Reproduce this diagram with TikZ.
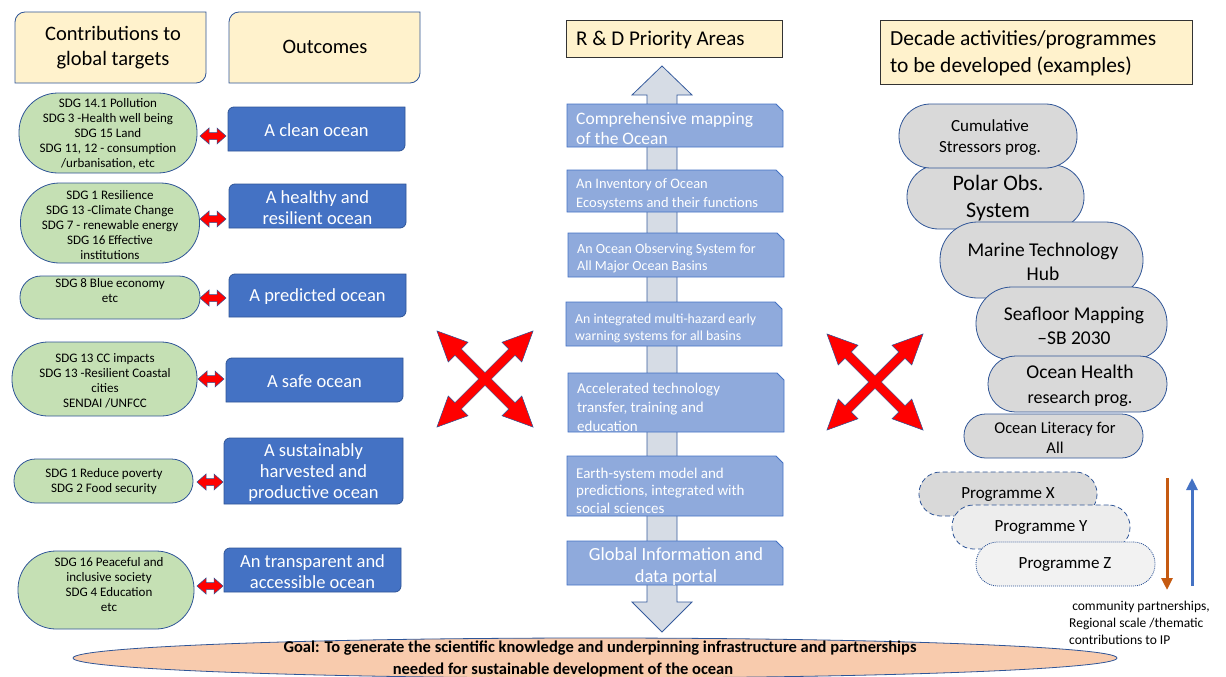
\documentclass[tikz,border=0pt]{standalone}
\usepackage{fontspec}
\setmainfont{Carlito}
\usetikzlibrary{arrows.meta}
\definecolor{hdrfill}{HTML}{FFF2CC}
\definecolor{bord}{HTML}{2F5597}
\definecolor{grn}{HTML}{C5E0B4}
\definecolor{obl}{HTML}{4472C4}
\definecolor{cbl}{HTML}{8FAADC}
\definecolor{arrg}{HTML}{D6DCE5}
\definecolor{gry}{HTML}{D9D9D9}
\definecolor{gryb}{HTML}{EDEDED}
\definecolor{gryc}{HTML}{F2F2F2}
\definecolor{goalf}{HTML}{F8CBAD}
\definecolor{orng}{HTML}{C55A11}
\newcommand\fsz[2]{\fontsize{#1}{#2}\selectfont}
% round-diagonal-corner box: x1,y1,x2,y2,radius,style
\newcommand\rdbox[6]{\path[#6] (#1,#2+#5) arc[start angle=180,end angle=90,radius=#5pt] -- (#3,#2) -- (#3,#4-#5) arc[start angle=0,end angle=-90,radius=#5pt] -- (#1,#4) -- cycle;}
% snipped box: x1,y1,x2,y2
\newcommand\snipbox[4]{\path[cbox] (#1,#2) -- (#3-7,#2) -- (#3,#2+7) -- (#3,#4) -- (#1,#4) -- cycle;}
% horizontal red double arrow: x1,x2,y
\newcommand\redharrow[3]{\path[redarr] (#1,#3) -- (#1+9,#3-8) -- (#1+9,#3-3.5) -- (#2-9,#3-3.5) -- (#2-9,#3-8) -- (#2,#3) -- (#2-9,#3+8) -- (#2-9,#3+3.5) -- (#1+9,#3+3.5) -- (#1+9,#3+8) -- cycle;}
% four-way red arrow: cx, cy
\newcommand\redxarrow[2]{\begin{scope}[shift={(#1,#2)},rotate=45]
\path[redarr] (4.5,4.5) -- (4.5,38) -- (14,38) -- (0,68) -- (-14,38) -- (-4.5,38) -- (-4.5,4.5) -- (-38,4.5) -- (-38,14) -- (-68,0) -- (-38,-14) -- (-38,-4.5) -- (-4.5,-4.5) -- (-4.5,-38) -- (-14,-38) -- (0,-68) -- (14,-38) -- (4.5,-38) -- (4.5,-4.5) -- (38,-4.5) -- (38,-14) -- (68,0) -- (38,14) -- (38,4.5) -- cycle;
\end{scope}}
\tikzset{
  hdr/.style={fill=hdrfill, draw=bord, line width=0.8pt},
  hdrk/.style={fill=hdrfill, draw=black!80, line width=0.8pt},
  txt/.style={inner sep=0pt, align=center},
  wtxt/.style={inner sep=0pt, text=white},
  gstad/.style={draw=bord, fill=grn, line width=0.8pt, inner sep=0pt},
  outc/.style={fill=obl, draw=bord, line width=0.8pt},
  cbox/.style={fill=cbl, draw=obl, line width=0.8pt},
  redarr/.style={fill=red, draw=bord, line width=0.5pt},
  graystad/.style={draw=bord, fill=gry, line width=0.8pt, inner sep=0pt},
  bigarr/.style={fill=arrg, draw=obl!80!black, line width=0.8pt},
  goalell/.style={fill=goalf, draw=bord, line width=0.8pt},
}
\begin{document}
\begin{tikzpicture}[x=1pt,y=-1pt]
\useasboundingbox (0,0) rectangle (1226,677);
% ---------- left headers
\rdbox{15}{12}{206}{83}{10}{hdr}
\node[txt, font=\fsz{20.5}{25}] (h1) at (113,48) {Contributions to\\global targets};
\rdbox{229}{12}{420}{83}{10}{hdr}
\node[txt, font=\fsz{20.5}{25}] (h2) at (325,47) {Outcomes};
% ---------- green targets
\node[gstad, minimum width=178pt, minimum height=80pt, rounded corners=39pt] (g1) at (108,133) {};
\node[gstad, minimum width=179pt, minimum height=80pt, rounded corners=39pt] (g2) at (110,223) {};
\node[gstad, minimum width=180pt, minimum height=43pt, rounded corners=21pt] (g3) at (110,297.5) {};
\node[gstad, minimum width=185pt, minimum height=74pt, rounded corners=36pt] (g4) at (104.5,379) {};
\node[gstad, minimum width=179pt, minimum height=44pt, rounded corners=21.5pt] (g5) at (103.5,481) {};
\node[gstad, minimum width=176pt, minimum height=78pt, rounded corners=38pt] (g6) at (106,590) {};
\node[txt, font=\fsz{13}{15}] (g1t) at (108,134) {SDG 14.1 Pollution\\SDG 3 -Health well being\\SDG 15 Land\\SDG 11, 12 - consumption\\/urbanisation, etc};
\node[txt, font=\fsz{13}{15}] (g2t) at (110,225) {SDG 1 Resilience\\SDG 13 -Climate Change\\SDG 7 - renewable energy\\SDG 16 Effective\\institutions};
\node[txt, font=\fsz{13}{15}] (g3t) at (110,291) {SDG 8 Blue economy\\etc};
\node[txt, font=\fsz{13}{15}] (g4t) at (105,380.5) {SDG 13 CC impacts\\SDG 13 -Resilient Coastal\\cities\\SENDAI /UNFCC};
\node[txt, font=\fsz{13}{15}] (g5t) at (104,482) {SDG 1 Reduce poverty\\SDG 2 Food security};
\node[txt, font=\fsz{13}{15}] (g6t) at (109,585) {SDG 16 Peaceful and\\inclusive society\\SDG 4 Education\\etc};
% ---------- outcomes
\rdbox{228}{107}{405}{151}{6}{outc}
\rdbox{229}{184}{406}{228}{6}{outc}
\rdbox{229}{274}{406}{317}{6}{outc}
\rdbox{226}{358}{403}{402}{6}{outc}
\rdbox{224}{438}{403}{504}{6}{outc}
\rdbox{224}{548}{401}{592}{6}{outc}
\node[wtxt, align=center, font=\fsz{18.5}{21}] (o1) at (316.5,130) {A clean ocean};
\node[wtxt, align=center, font=\fsz{18.5}{21}] (o2) at (317.5,208) {A healthy and\\resilient ocean};
\node[wtxt, align=center, font=\fsz{18.5}{21}] (o3) at (317.5,297) {A predicted ocean};
\node[wtxt, align=center, font=\fsz{18.5}{21}] (o4) at (314.5,381.5) {A safe ocean};
\node[wtxt, align=center, font=\fsz{18.5}{21}] (o5) at (313.5,473) {A sustainably\\harvested and\\productive ocean};
\node[wtxt, align=center, font=\fsz{18.5}{21}] (o6) at (312.5,572) {An transparent and\\accessible ocean};
\redharrow{200}{226}{136}
\redharrow{200}{226}{219}
\redharrow{200}{226}{298}
\redharrow{198}{224}{379}
\redharrow{197}{223}{482}
\redharrow{197}{223}{586}
% ---------- centre column
\path[hdrk] (566,20) rectangle (782,57);
\node[txt, anchor=west, font=\fsz{21}{24}] (rd) at (576,40) {R \& D Priority Areas};
\path[bigarr] (662,66) -- (692,95) -- (677,95) -- (677,602) -- (692,602) -- (662,632) -- (632,602) -- (647,602) -- (647,95) -- (632,95) -- cycle;
\snipbox{567}{104}{783}{147}
\snipbox{567}{170}{783}{212}
\snipbox{568}{233}{784}{277}
\snipbox{566}{302}{782}{346}
\snipbox{568}{373}{784}{432}
\snipbox{567}{456}{783}{516}
\snipbox{567}{541}{783}{585}
\node[wtxt, anchor=west, align=left, font=\fsz{17.5}{20.5}] (c1) at (576,128.5) {Comprehensive mapping\\of the Ocean};
\node[wtxt, anchor=west, align=left, font=\fsz{14.5}{19}] (c2) at (576,194.5) {An Inventory of Ocean\\Ecosystems and their functions};
\node[wtxt, anchor=west, align=left, font=\fsz{14}{17.5}] (c3) at (577,258.5) {An Ocean Observing System for\\All Major Ocean Basins};
\node[wtxt, anchor=west, align=left, font=\fsz{13.8}{17}] (c4) at (575,328.5) {An integrated multi-hazard early\\warning systems for all basins};
\node[wtxt, anchor=west, align=left, font=\fsz{15}{19}] (c5) at (577,407) {Accelerated technology\\transfer, training and\\education};
\node[wtxt, anchor=west, align=left, font=\fsz{15}{17.5}] (c6) at (576,490.5) {Earth-system model and\\predictions, integrated with\\social sciences};
\node[wtxt, align=center, font=\fsz{18.5}{22}] (c7) at (676,567) {Global Information and\\data portal};
\redxarrow{485}{379}
\redxarrow{875}{382}
% ---------- right column
\path[hdrk] (880,20) rectangle (1192,84);
\node[txt, anchor=west, align=left, font=\fsz{21.5}{27}] (dh) at (890,53) {Decade activities/programmes\\to be developed (examples)};
\node[graystad, minimum width=177pt, minimum height=64pt, rounded corners=31.5pt] (s2) at (995.5,197) {};
\node[graystad, minimum width=178pt, minimum height=64pt, rounded corners=31.5pt] (s1) at (988,136) {};
\node[graystad, minimum width=203pt, minimum height=76pt, rounded corners=37.5pt] (s3) at (1041.5,260) {};
\node[graystad, minimum width=191pt, minimum height=73pt, rounded corners=36pt] (s4) at (1071.5,323.5) {};
\node[graystad, minimum width=179pt, minimum height=56pt, rounded corners=27.5pt] (s5) at (1077.5,384) {};
\node[graystad, minimum width=179pt, minimum height=44pt, rounded corners=21.5pt] (s6) at (1053.5,436) {};
\node[graystad, dash pattern=on 5pt off 3pt, minimum width=178pt, minimum height=44pt, rounded corners=21.5pt] (s7) at (1008,494) {};
\node[graystad, fill=gryb, dash pattern=on 5pt off 3pt, minimum width=178pt, minimum height=44pt, rounded corners=21.5pt] (s8) at (1041,527) {};
\node[graystad, fill=gryc, dash pattern=on 1pt off 1pt, minimum width=179pt, minimum height=44pt, rounded corners=21.5pt] (s9) at (1065.5,564) {};
\node[txt, font=\fsz{17}{21}] (s1t) at (990,138) {Cumulative\\Stressors prog.};
\node[txt, font=\fsz{22}{27}] (s2t) at (998,198) {Polar Obs.\\System};
\node[txt, font=\fsz{19.5}{24}] (s3t) at (1043,261.5) {Marine Technology\\Hub};
\node[txt, font=\fsz{19.5}{24}] (s4t) at (1074,325.5) {Seafloor Mapping\\–SB 2030};
\node[txt, font=\fsz{19.5}{25}] (s5t) at (1080,386) {Ocean Health\\\fsz{18}{25}research prog.};
\node[txt, font=\fsz{16.5}{20}] (s6t) at (1055,438) {Ocean Literacy for\\All};
\node[txt, font=\fsz{17}{20}] (s7t) at (1008,495) {Programme X};
\node[txt, font=\fsz{17}{20}] (s8t) at (1041,528) {Programme Y};
\node[txt, font=\fsz{17}{20}] (s9t) at (1065,565) {Programme Z};
\coordinate (oa1) at (1167,478);
\coordinate (oa2) at (1167,590);
\coordinate (ba1) at (1192,586);
\coordinate (ba2) at (1192,478);
\draw[orng, line width=3pt, -{Triangle[length=12pt,width=11pt]}] (oa1) -- (oa2);
\draw[obl, line width=3pt, -{Triangle[length=12pt,width=11pt]}] (ba1) -- (ba2);
\node[txt, anchor=west, align=left, font=\fsz{13.5}{17}] (ctext) at (1069,623) {\ community partnerships,\\Regional scale /thematic\\contributions to IP};
% ---------- goal
\path[goalell] (595,658) ellipse [x radius=522, y radius=20];
\node[txt, font=\fsz{16.5}{20}\bfseries] (goal1) at (600,648.5) {Goal: To generate the scientific knowledge and underpinning infrastructure and partnerships};
\node[txt, font=\fsz{16.5}{20}\bfseries] (goal2) at (563,670) {needed for sustainable development of the ocean};
\end{tikzpicture}
\end{document}
